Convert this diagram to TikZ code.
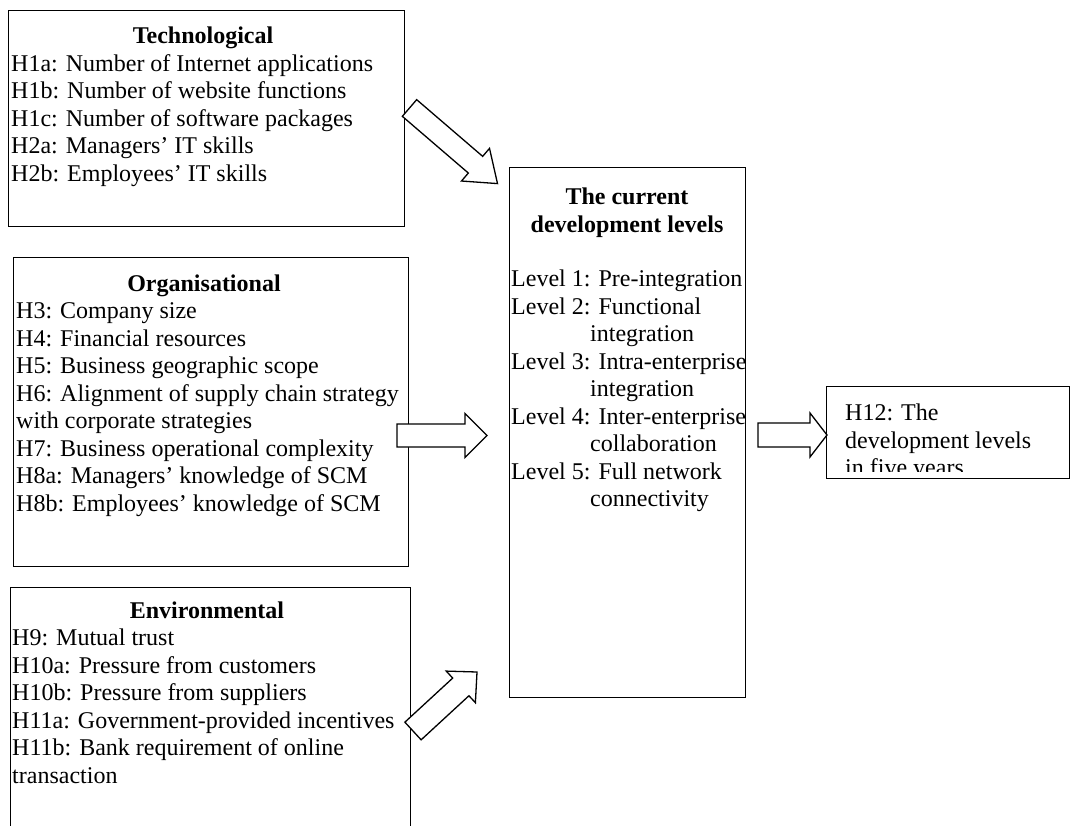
\documentclass[tikz,border=0pt]{standalone}
\usepackage{fontspec}
\setmainfont{Liberation Serif}
\usetikzlibrary{calc}
\newcommand\fs{\fontsize{24}{27.5}\selectfont}
\newcommand\lines[1]{\begin{tabular}[t]{@{}l@{}}#1\end{tabular}}
\newcommand\ctrlines[1]{\begin{tabular}[t]{@{}c@{}}#1\end{tabular}}
\newcommand\ind{\hspace*{79pt}}
% block arrow from a tail coordinate to a tip coordinate:
% #1 tail, #2 tip, #3 half shaft width, #4 half head width, #5 head length
\newcommand\fatarrow[5]{%
  \coordinate (#1-hb) at ($(#2)!#5!(#1)$);
  \draw[blockarrow] ($(#1)!#3!90:(#2)$) -- ($(#1-hb)!#3!90:(#2)$)
    -- ($(#1-hb)!#4!90:(#2)$) -- (#2) -- ($(#1-hb)!#4!-90:(#2)$)
    -- ($(#1-hb)!#3!-90:(#2)$) -- ($(#1)!#3!-90:(#2)$) -- cycle;}
\begin{document}
\begin{tikzpicture}[x=1pt,y=-1pt,
  box/.style={draw, line width=1.4pt, inner sep=0pt, anchor=north west},
  body/.style={anchor=base west, inner sep=0pt, font=\fs},
  head/.style={anchor=base, inner sep=0pt, font=\fs\bfseries},
  blockarrow/.style={draw, line width=1.3pt, fill=white, line join=miter}]
\useasboundingbox (0,0) rectangle (1073,826);
\clip (0,0) rectangle (1073,826);

% factor boxes
\node[box, minimum width=396pt, minimum height=216pt] (tech) at (8,10) {};
\node[box, minimum width=395pt, minimum height=309pt] (org) at (13,257) {};
\node[box, minimum width=400pt, minimum height=260pt] (env) at (10,587) {};
% outcome boxes
\node[box, minimum width=236pt, minimum height=530pt] (cur) at (509,167) {};
\node[box, minimum width=243pt, minimum height=92pt] (fut) at (826,386) {};

% technological factors
\node[head] (techT) at (203,44) {Technological};
\node[body] (techB) at (11,71.5) {\lines{H1a: Number of Internet applications\\
  H1b: Number of website functions\\
  H1c: Number of software packages\\
  H2a: Managers’ IT skills\\
  H2b: Employees’ IT skills}};

% organisational factors
\node[head] (orgT) at (204,291) {Organisational};
\node[body] (orgB) at (16,318.5) {\lines{H3: Company size\\
  H4: Financial resources\\
  H5: Business geographic scope\\
  H6: Alignment of supply chain strategy\\
  with corporate strategies\\
  H7: Business operational complexity\\
  H8a: Managers’ knowledge of SCM\\
  H8b: Employees’ knowledge of SCM}};

% environmental factors
\node[head] (envT) at (207,618) {Environmental};
\node[body] (envB) at (12,645.5) {\lines{H9: Mutual trust\\
  H10a: Pressure from customers\\
  H10b: Pressure from suppliers\\
  H11a: Government-provided incentives\\
  H11b: Bank requirement of online\\
  transaction}};

% current development levels
\node[head] (curT) at (627,205) {\ctrlines{The current\\development levels}};
\node[body] (curB) at (511,287) {\lines{Level 1: Pre-integration\\
  Level 2: Functional\\
  \ind integration\\
  Level 3: Intra-enterprise\\
  \ind integration\\
  Level 4: Inter-enterprise\\
  \ind collaboration\\
  Level 5: Full network\\
  \ind connectivity}};

% development levels in five years (text cut by the frame)
\begin{scope}
  \clip (826,386) rectangle (1069,471);
  \node[body] (futB) at (845,420.5) {\lines{H12: The\\
    development levels\\
    in five years}};
\end{scope}

% block arrows
\coordinate (a1) at (409.5,108);   \coordinate (a1t) at (497.5,183.6);
\coordinate (a2) at (397,435.5);   \coordinate (a2t) at (487,435.5);
\coordinate (a3) at (413,731);     \coordinate (a3t) at (477,672);
\coordinate (a4) at (758,435);     \coordinate (a4t) at (827,435);
\fatarrow{a1}{a1t}{11pt}{21.5pt}{29pt}
\fatarrow{a2}{a2t}{11.5pt}{22pt}{22pt}
\fatarrow{a3}{a3t}{12pt}{21.5pt}{22pt}
\fatarrow{a4}{a4t}{12pt}{22pt}{17pt}
\end{tikzpicture}
\end{document}
